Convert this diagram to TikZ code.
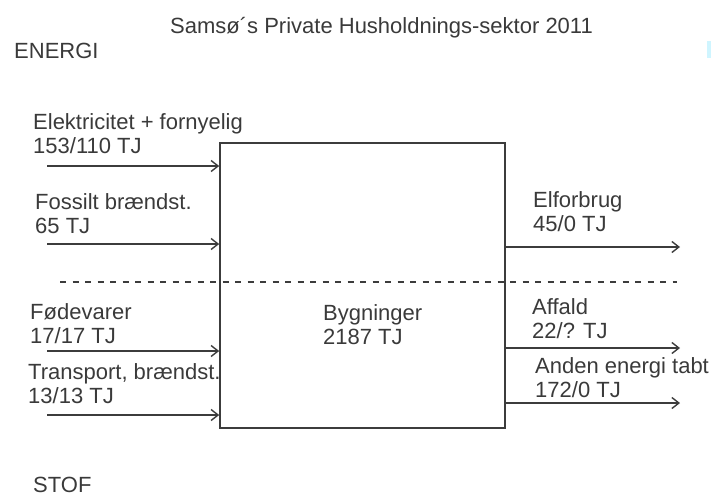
\documentclass[tikz,border=0pt]{standalone}
\usepackage{fontspec}
\setmainfont{Liberation Sans}
\usetikzlibrary{arrows.meta}
\definecolor{txt}{HTML}{3A3A3A}
\definecolor{ln}{HTML}{3C3C3C}
\definecolor{cy}{HTML}{CFF5FF}
\tikzset{
  lbl/.style={anchor=base west, inner sep=0pt, text=txt, align=left,
    font=\fontsize{22pt}{24pt}\selectfont},
  arr/.style={draw=ln, line width=1.4pt, -{Straight Barb[length=7pt,width=11pt,line width=1.4pt]}},
  sep/.style={draw=ln, line width=1.4pt, dash pattern=on 6pt off 6.5pt},
  boxst/.style={draw=ln, line width=1.6pt, minimum width=285pt, minimum height=285pt, inner sep=0pt}
}
\begin{document}
\begin{tikzpicture}[x=1pt,y=-1pt]
\useasboundingbox (0,0) rectangle (711,496);
\fill[cy] (707,41) rectangle (711,58);
% title and section labels
\node[lbl] (title) at (170,33) {Samsø´s Private Husholdnings-sektor 2011};
\node[lbl] (energi) at (14,58) {ENERGI};
\node[lbl] (stof) at (33,492) {STOF};
% box
\node[boxst] (bx) at (362.5,285.5) {};
\node[lbl] (byg) at (323,344) {Bygninger\\2187 TJ};
% dashed separator
\coordinate (dl) at (60,282);
\coordinate (dr) at (677,282);
\draw[sep] (dl) -- (dr);
% inputs
\coordinate (i1) at (47,166);
\coordinate (i2) at (47,244);
\coordinate (i3) at (47,351);
\coordinate (i4) at (47,415);
\draw[arr] (i1) -- (i1 -| bx.west);
\draw[arr] (i2) -- (i2 -| bx.west);
\draw[arr] (i3) -- (i3 -| bx.west);
\draw[arr] (i4) -- (i4 -| bx.west);
\node[lbl] (l1) at (33,153) {Elektricitet + fornyelig\\153/110 TJ};
\node[lbl] (l2) at (35,233) {Fossilt brændst.\\65 TJ};
\node[lbl] (l3) at (30,343) {Fødevarer\\17/17 TJ};
\node[lbl] (l4) at (28,403) {Transport, brændst.\\13/13 TJ};
% outputs
\coordinate (o1) at (680,247);
\coordinate (o2) at (680,348);
\coordinate (o3) at (680,403);
\draw[arr] (o1 -| bx.east) -- (o1);
\draw[arr] (o2 -| bx.east) -- (o2);
\draw[arr] (o3 -| bx.east) -- (o3);
\node[lbl] (r1) at (533,231) {Elforbrug\\45/0 TJ};
\node[lbl] (r2) at (532,338) {Affald\\22/? TJ};
\node[lbl] (r3) at (535,397) {Anden energi tabt\\172/0 TJ};
\end{tikzpicture}
\end{document}
